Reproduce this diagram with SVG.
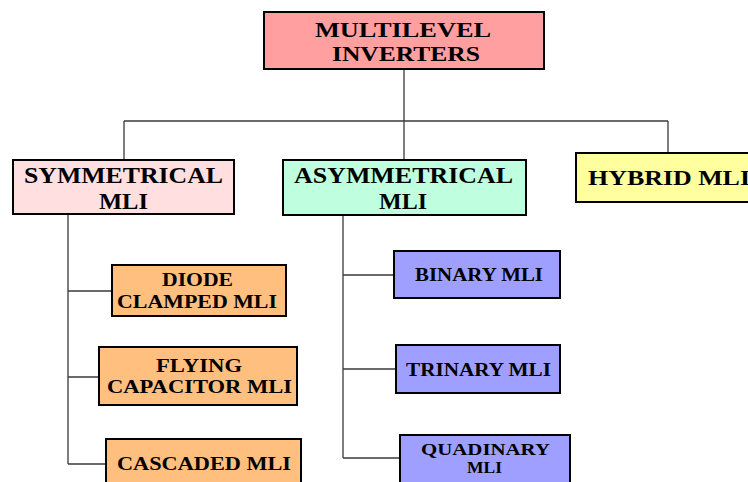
<svg xmlns="http://www.w3.org/2000/svg" width="748" height="482" viewBox="0 0 748 482">
<style>
.box{stroke:#000;stroke-width:2}
.t{font-family:"Liberation Serif","Times New Roman",serif;font-weight:bold;fill:#000}
.c{stroke:#3a3a3a;stroke-width:1.3;fill:none}
</style>
<rect width="748" height="482" fill="#fff"/>
<g id="connectors">
<path class="c" d="M404 69V121M124 121H668M124 121V160M404 121V160M668 121V153"/>
<path class="c" d="M68 214V464M68 291H112M68 377H99M68 464H106"/>
<path class="c" d="M343 215V458M343 275H394M343 369H396M343 458H400"/>
</g>
<g id="multilevel">
<rect class="box" x="264" y="12" width="280" height="57" fill="#FF9F9F"/>
<text class="t" x="315" y="37" font-size="22" textLength="176" lengthAdjust="spacingAndGlyphs">MULTILEVEL</text>
<text class="t" x="332" y="60.5" font-size="22" textLength="148" lengthAdjust="spacingAndGlyphs">INVERTERS</text>
</g>
<g id="symmetrical">
<rect class="box" x="13" y="160" width="221" height="54" fill="#FFDFDF"/>
<text class="t" x="24" y="183" font-size="22.5" textLength="199" lengthAdjust="spacingAndGlyphs">SYMMETRICAL</text>
<text class="t" x="99" y="209" font-size="22.5" textLength="49" lengthAdjust="spacingAndGlyphs">MLI</text>
</g>
<g id="asymmetrical">
<rect class="box" x="283" y="160" width="243" height="55" fill="#BFFFDF"/>
<text class="t" x="294" y="183" font-size="22.5" textLength="219" lengthAdjust="spacingAndGlyphs">ASYMMETRICAL</text>
<text class="t" x="379" y="209" font-size="22.5" textLength="48" lengthAdjust="spacingAndGlyphs">MLI</text>
</g>
<g id="hybrid">
<rect class="box" x="576" y="153" width="190" height="49" fill="#FFFF9F"/>
<text class="t" x="588" y="185" font-size="20.5" textLength="162" lengthAdjust="spacingAndGlyphs">HYBRID MLI</text>
</g>
<g id="diode">
<rect class="box" x="112" y="265" width="174" height="51" fill="#FFBF7F"/>
<text class="t" x="162" y="286" font-size="19" textLength="71" lengthAdjust="spacingAndGlyphs">DIODE</text>
<text class="t" x="117" y="308" font-size="19" textLength="160" lengthAdjust="spacingAndGlyphs">CLAMPED MLI</text>
</g>
<g id="flying">
<rect class="box" x="99" y="347" width="198" height="58" fill="#FFBF7F"/>
<text class="t" x="156" y="372" font-size="19" textLength="86" lengthAdjust="spacingAndGlyphs">FLYING</text>
<text class="t" x="107" y="393" font-size="19" textLength="185" lengthAdjust="spacingAndGlyphs">CAPACITOR MLI</text>
</g>
<g id="cascaded">
<rect class="box" x="106" y="439" width="195" height="60" fill="#FFBF7F"/>
<text class="t" x="117" y="470" font-size="19" textLength="174" lengthAdjust="spacingAndGlyphs">CASCADED MLI</text>
</g>
<g id="binary">
<rect class="box" x="394" y="251" width="166" height="47" fill="#9F9FFF"/>
<text class="t" x="415" y="281" font-size="18" textLength="128" lengthAdjust="spacingAndGlyphs">BINARY MLI</text>
</g>
<g id="trinary">
<rect class="box" x="396" y="345" width="164" height="48" fill="#9F9FFF"/>
<text class="t" x="406" y="376" font-size="18" textLength="145" lengthAdjust="spacingAndGlyphs">TRINARY MLI</text>
</g>
<g id="quadinary">
<rect class="box" x="400" y="435" width="170" height="60" fill="#9F9FFF"/>
<text class="t" x="421" y="455" font-size="17" textLength="129" lengthAdjust="spacingAndGlyphs">QUADINARY</text>
<text class="t" x="467" y="473" font-size="17" textLength="35" lengthAdjust="spacingAndGlyphs">MLI</text>
</g>
</svg>
